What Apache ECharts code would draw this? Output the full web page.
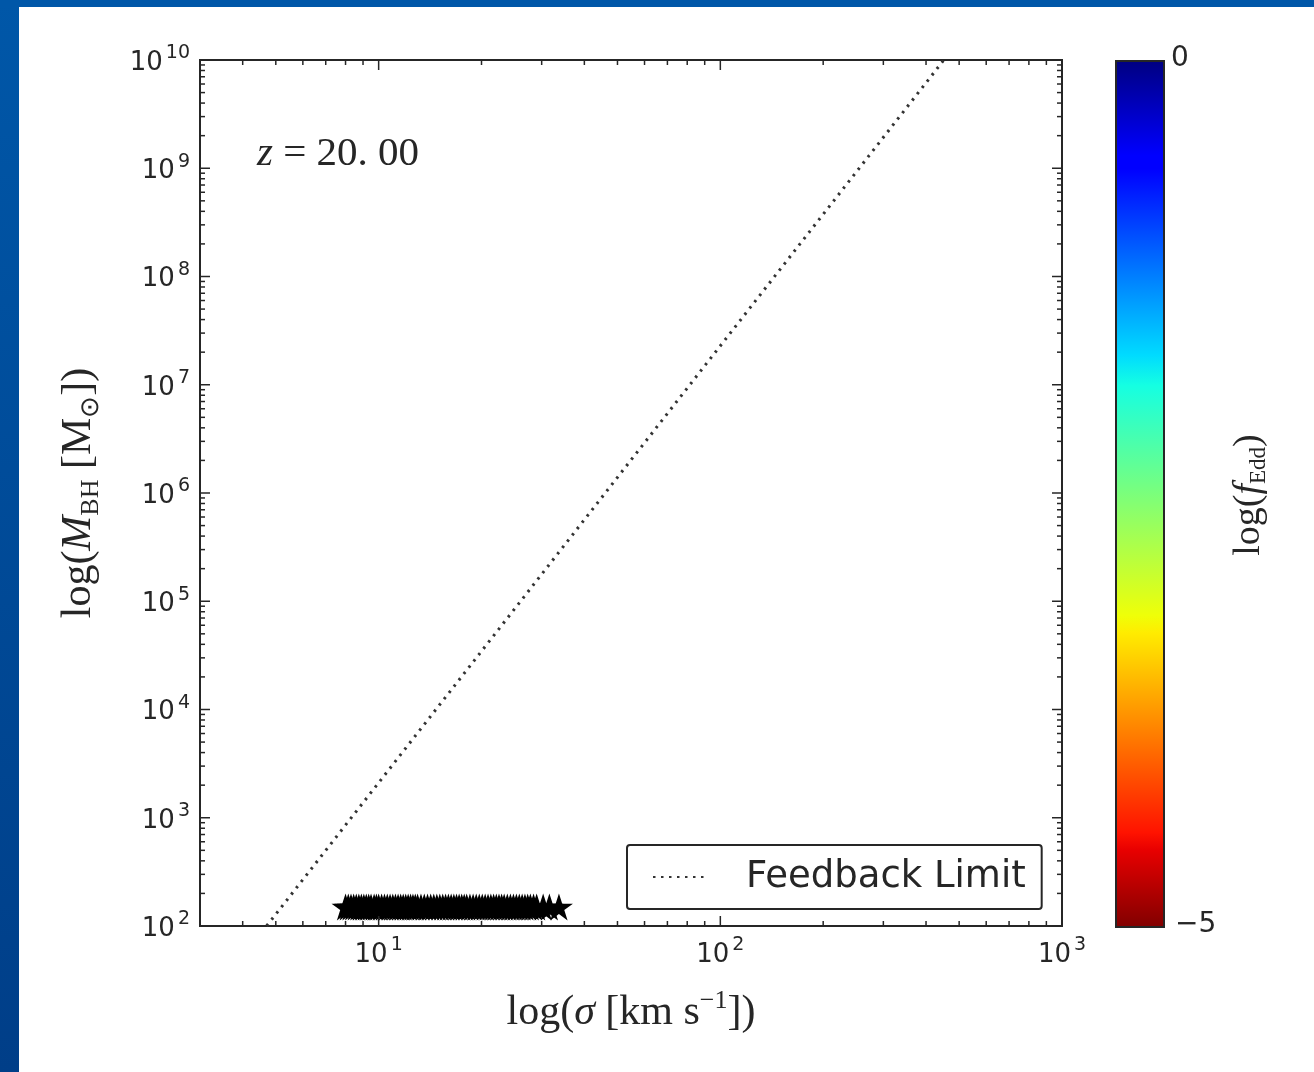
<!DOCTYPE html>
<html>
<head>
<meta charset="utf-8">
<title>M_BH - sigma, z = 20</title>
<script src="https://cdn.jsdelivr.net/npm/echarts@6.0.0/dist/echarts.min.js"></script>
<style>
  html, body { margin: 0; padding: 0; background: #fff; }
  #graph { width: 1314px; height: 1072px; }
</style>
</head>
<body>
<div id="graph"></div>
<script>
// ---- data ----
var sigmaStars = [8.0, 8.15, 8.3, 8.45, 8.6, 8.75, 8.9, 9.05, 9.2, 9.35, 9.5, 9.7, 9.85,
  10.0, 10.2, 10.4, 10.6, 10.8, 11.0, 11.2, 11.4, 11.6, 11.8, 12.0, 12.2, 12.4, 12.6, 12.8,
  13.0, 13.3, 13.6, 13.9, 14.2, 14.5, 14.8, 15.1, 15.4, 15.7, 16.0, 16.3, 16.6, 16.9, 17.2,
  17.5, 17.8, 18.1, 18.5, 18.9, 19.3, 19.7, 20.1, 20.5, 20.9, 21.3, 21.7, 22.1, 22.5, 22.9,
  23.3, 23.8, 24.3, 24.8, 25.3, 25.8, 26.3, 26.8, 27.3, 27.8, 28.4, 29.0, 30.3, 31.6, 33.7];
var mbhStars = 150;

var feedbackSigma = [4.7, 451];
var feedbackMbh = [1e2, 1e10];

var xLabelValues = [10, 100, 1000];
var yLabelValues = [1e2, 1e3, 1e4, 1e5, 1e6, 1e7, 1e8, 1e9, 1e10];
var cbarLabels = ['0', '\u22125'];

var xMin = 3, xMax = 1000, yMin = 1e2, yMax = 1e10;

// minor ticks at 2..9 x 10^n
var xMinor = [], yMinor = [];
for (var d = 0; d < 3; d++) {
  for (var m = 2; m < 10; m++) {
    var v = m * Math.pow(10, d);
    if (v >= xMin && v < xMax && v !== 10 && v !== 100) xMinor.push(v);
  }
}
for (var e = 2; e < 10; e++) {
  for (var k = 2; k < 10; k++) yMinor.push(k * Math.pow(10, e));
}

var chartDom = document.getElementById('graph');
var myChart = echarts.init(chartDom);
var option;

var INK = '#262626';
var SERIF = 'Liberation Serif';

function powLabel(value) {
  var exp = Math.round(Math.log10(value));
  return '{b|10}{s|' + exp + '}';
}
var powRich = {
  b: { fontFamily: 'DejaVu Sans', fontSize: 26, color: INK, lineHeight: 32, verticalAlign: 'bottom' },
  s: { fontFamily: 'DejaVu Sans', fontSize: 19, color: INK, lineHeight: 17, verticalAlign: 'top', padding: [0, 0, 0, 3] }
};

function tickLine(x1, y1, x2, y2) {
  return { type: 'line', shape: { x1: x1, y1: y1, x2: x2, y2: y2 }, style: { stroke: INK, lineWidth: 1.5 } };
}

function renderTicks(params, api) {
  var tl = api.coord([xMin, yMax]);
  var br = api.coord([xMax, yMin]);
  var kids = [];
  function xt(v, len) {
    var x = api.coord([v, yMin])[0];
    kids.push(tickLine(x, br[1], x, br[1] - len));
    kids.push(tickLine(x, tl[1], x, tl[1] + len));
  }
  function yt(v, len) {
    var y = api.coord([xMin, v])[1];
    kids.push(tickLine(tl[0], y, tl[0] + len, y));
    kids.push(tickLine(br[0], y, br[0] - len, y));
  }
  xLabelValues.forEach(function (v) { xt(v, 10); });
  xMinor.forEach(function (v) { xt(v, 5); });
  yLabelValues.forEach(function (v) { yt(v, 10); });
  yMinor.forEach(function (v) { yt(v, 5); });
  return { type: 'group', children: kids };
}

var starPath = 'path://M50,0 L61.8,36.2 L100,36.2 L69.1,58.6 L80.9,95.1 L50,72.6 L19.1,95.1 L30.9,58.6 L0,36.2 L38.2,36.2 Z';

option = {
  backgroundColor: '#ffffff',
  animation: false,
  grid: {
    left: 200, top: 60, width: 862, height: 866,
    show: true, borderColor: INK, borderWidth: 2, backgroundColor: '#fff'
  },
  xAxis: {
    type: 'log', logBase: 10, min: xMin, max: xMax,
    axisLine: { show: false }, axisTick: { show: false }, splitLine: { show: false },
    axisLabel: {
      customValues: xLabelValues, margin: 10, formatter: powLabel, rich: powRich
    },
    name: '{t|log(}{i|\u03c3}{t| [km s}{s|\u22121}{t|])}',
    nameLocation: 'middle', nameGap: 62,
    nameTextStyle: {
      rich: {
        t: { fontFamily: SERIF, fontSize: 42, color: INK, lineHeight: 46, verticalAlign: 'bottom' },
        i: { fontFamily: SERIF, fontStyle: 'italic', fontSize: 42, color: INK, lineHeight: 46, verticalAlign: 'bottom' },
        s: { fontFamily: SERIF, fontSize: 26, color: INK, lineHeight: 28, verticalAlign: 'top' }
      }
    }
  },
  yAxis: {
    type: 'log', logBase: 10, min: yMin, max: yMax,
    axisLine: { show: false }, axisTick: { show: false }, splitLine: { show: false },
    axisLabel: {
      customValues: yLabelValues, margin: 10, formatter: powLabel, rich: powRich
    },
    name: '{t|log(}{i|M}{sub|BH}{t| [M}{sub|\u2299}{t|])}',
    nameLocation: 'middle', nameGap: 96,
    nameTextStyle: {
      rich: {
        t: { fontFamily: SERIF, fontSize: 42, color: INK, lineHeight: 46, verticalAlign: 'top' },
        i: { fontFamily: SERIF, fontStyle: 'italic', fontSize: 42, color: INK, lineHeight: 46, verticalAlign: 'top' },
        sub: { fontFamily: SERIF, fontSize: 26, color: INK, lineHeight: 28, verticalAlign: 'bottom' }
      }
    }
  },
  legend: {
    data: ['Feedback Limit'],
    left: 627, top: 845,
    itemWidth: 54, itemHeight: 14,
    padding: [13, 16, 13, 25],
    borderColor: INK, borderWidth: 2, borderRadius: 3,
    backgroundColor: '#fff',
    selectedMode: false,
    itemStyle: { opacity: 0, borderWidth: 0 },
    textStyle: { fontFamily: 'DejaVu Sans', fontSize: 37, color: INK, lineHeight: 38, padding: [0, 0, 0, 34] }
  },
  series: [
    {
      name: 'Feedback Limit',
      type: 'line',
      symbol: 'none',
      data: feedbackSigma.map(function (s, i) { return [s, feedbackMbh[i]]; }),
      lineStyle: { color: '#333', width: 3, type: [2.5, 5.5] },
      clip: true, z: 3
    },
    {
      name: 'haloes',
      type: 'scatter',
      symbol: starPath,
      symbolSize: [28, 27],
      itemStyle: { color: '#000', opacity: 1 },
      data: sigmaStars.map(function (s) { return [s, mbhStars]; }),
      z: 4
    },
    {
      name: 'ticks',
      type: 'custom',
      renderItem: renderTicks,
      data: [[10, 1000]],
      silent: true, z: 5
    }
  ],
  graphic: [
    // frame of the slide
    { type: 'rect', left: 0, top: 0, shape: { width: 19, height: 1072 }, silent: true,
      style: { fill: new echarts.graphic.LinearGradient(0, 0, 0, 1, [
        { offset: 0, color: '#0057a8' }, { offset: 1, color: '#003e88' }]) } },
    { type: 'rect', left: 0, top: 0, shape: { width: 1314, height: 7 }, silent: true, style: { fill: '#0057a8' } },
    // colour bar (jet, 0 at top, -5 at bottom)
    { type: 'rect', left: 1115, top: 60, silent: true,
      shape: { width: 48, height: 866 },
      style: {
        stroke: INK, lineWidth: 2,
        fill: new echarts.graphic.LinearGradient(0, 0, 0, 1, [
          { offset: 0, color: 'rgb(0,0,128)' },
          { offset: 0.11, color: 'rgb(0,0,255)' },
          { offset: 0.125, color: 'rgb(0,0,255)' },
          { offset: 0.34, color: 'rgb(0,219,255)' },
          { offset: 0.375, color: 'rgb(21,255,226)' },
          { offset: 0.5, color: 'rgb(123,255,123)' },
          { offset: 0.64, color: 'rgb(239,255,8)' },
          { offset: 0.66, color: 'rgb(255,236,0)' },
          { offset: 0.89, color: 'rgb(255,19,0)' },
          { offset: 0.91, color: 'rgb(232,0,0)' },
          { offset: 1, color: 'rgb(128,0,0)' }
        ])
      } },
    { type: 'text', left: 1171, top: 45, silent: true,
      style: { text: cbarLabels[0], font: '28px "DejaVu Sans"', fill: INK } },
    { type: 'text', left: 1175, top: 911, silent: true,
      style: { text: cbarLabels[1], font: '28px "DejaVu Sans"', fill: INK } },
    { type: 'text', x: 1250, y: 495, rotation: Math.PI / 2, silent: true,
      style: {
        text: '{t|log(}{i|f}{sub|Edd}{t|)}',
        align: 'center', verticalAlign: 'middle',
        rich: {
          t: { fontFamily: SERIF, fontSize: 38, fill: INK, lineHeight: 40, verticalAlign: 'top' },
          i: { fontFamily: SERIF, fontStyle: 'italic', fontSize: 38, fill: INK, lineHeight: 40, verticalAlign: 'top' },
          sub: { fontFamily: SERIF, fontSize: 23, fill: INK, lineHeight: 24, verticalAlign: 'bottom' }
        }
      } },
    // redshift annotation
    { type: 'text', left: 257, top: 134, silent: true,
      style: {
        text: '{i|z}{t| = 20. 00}',
        rich: {
          i: { fontFamily: SERIF, fontStyle: 'italic', fontSize: 41, fill: INK },
          t: { fontFamily: SERIF, fontSize: 41, fill: INK }
        }
      } }
  ]
};

option && myChart.setOption(option);
</script>
</body>
</html>
